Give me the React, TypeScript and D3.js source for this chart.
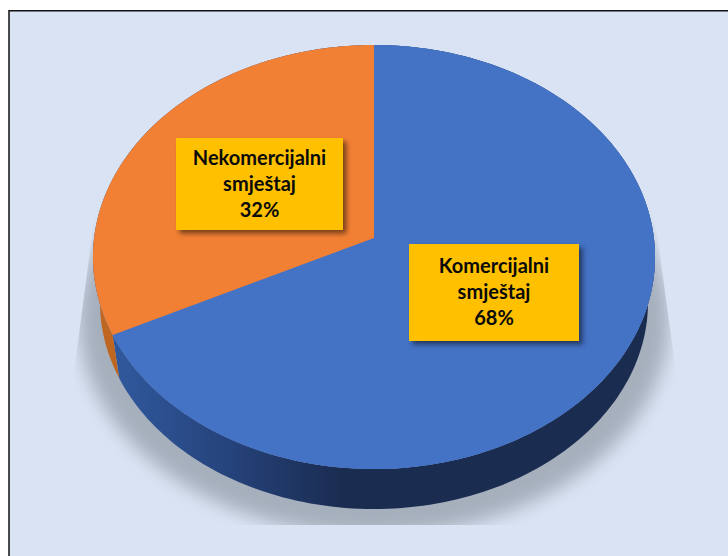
import React from "react";
import * as d3 from "d3";

const categories = ["Komercijalni smještaj", "Nekomercijalni smještaj"];
const values = [67.7, 32.3];
const labelLines = [["Komercijalni", "smještaj", "68%"], ["Nekomercijalni", "smještaj", "32%"]];
const topColors = ["#4472C4", "#F28034"];
const labelBoxes = [
  { x: 409, y: 244, w: 170, h: 97, first: 29 },
  { x: 176, y: 138, w: 167, h: 92, first: 27 },
];

const W = 728, H = 556;
const apex = { x: 374, y: 238 };
const A = 279.9, B = 210.3, K = -0.0896, BASE_SHIFT = 45.8, BASE_SCALE = 0.975;

const project = (theta: number, scale = 1, dy = 0): [number, number] => {
  const u = Math.sin(theta), v = -Math.cos(theta);
  const w = 1 + K * v;
  return [apex.x + (scale * A * u) / w, apex.y + (scale * B * v) / w + dy];
};
const arcPoints = (a0: number, a1: number, scale = 1, dy = 0) =>
  d3.range(0, 181).map((i) => project(a0 + ((a1 - a0) * i) / 180, scale, dy));

export default function App() {
  const arcs = d3.pie<number>().sort(null)(values);
  const line = d3.line();
  const rim = line(arcPoints(0, Math.PI * 2))! + "Z";
  return (
    <svg width={W} height={H} viewBox={`0 0 ${W} ${H}`}
      style={{ position: "fixed", left: 0, top: 0, display: "block", background: "#fff" }}>
      <defs>
        <filter id="blurShadow" x="-20%" y="-20%" width="140%" height="140%">
          <feGaussianBlur stdDeviation="9" />
        </filter>
        <filter id="boxShadow" x="-10%" y="-10%" width="125%" height="125%">
          <feGaussianBlur stdDeviation="2.5" />
        </filter>
        <clipPath id="shadowClip">
          <path d="M98 190 L74 372 L74 525 L676 525 L676 372 L651 190 Z" />
        </clipPath>
        <linearGradient id="wallBlue" gradientUnits="userSpaceOnUse" x1="119" x2="345" y1="0" y2="0">
          <stop offset="0" stopColor="#30589C" />
          <stop offset="0.5" stopColor="#25427A" />
          <stop offset="1" stopColor="#1A2C50" />
        </linearGradient>
      </defs>
      <rect x={9} y={10.75} width={W} height={H} fill="#DAE3F3" stroke="#111" strokeWidth={1.5} />
      <g clipPath="url(#shadowClip)">
        <ellipse cx={374} cy={320} rx={295} ry={215} fill="#A6AFBC" filter="url(#blurShadow)" />
      </g>
      {arcs.map((a, i) => {
        const top = arcPoints(a.startAngle, a.endAngle);
        const bottom = arcPoints(a.startAngle, a.endAngle, BASE_SCALE, BASE_SHIFT).reverse();
        return (
          <path key={"w" + categories[i]} d={line([...top, ...bottom])! + "Z"}
            fill={i === 0 ? "url(#wallBlue)" : "#BF6621"} />
        );
      })}
      <path d={rim} fill={topColors[0]} />
      {arcs.map((a, i) => (
        <path key={"t" + categories[i]}
          d={line([[apex.x, apex.y], ...arcPoints(a.startAngle, a.endAngle)])! + "Z"}
          fill={topColors[i]} />
      ))}
      {labelBoxes.map((b, i) => (
        <g key={categories[i]}>
          <rect x={b.x + 3.5} y={b.y + 3.5} width={b.w} height={b.h} fill="#000" opacity={0.5} filter="url(#boxShadow)" />
          <rect x={b.x} y={b.y} width={b.w} height={b.h} fill="#FFC000" />
          {labelLines[i].map((t, j) => (
            <text key={j} x={b.x + b.w / 2} y={b.y + b.first + j * 26} textAnchor="middle"
              fontFamily="Lato" fontWeight={700} fontSize={20} fill="#0a0a0a">{t}</text>
          ))}
        </g>
      ))}
    </svg>
  );
}
